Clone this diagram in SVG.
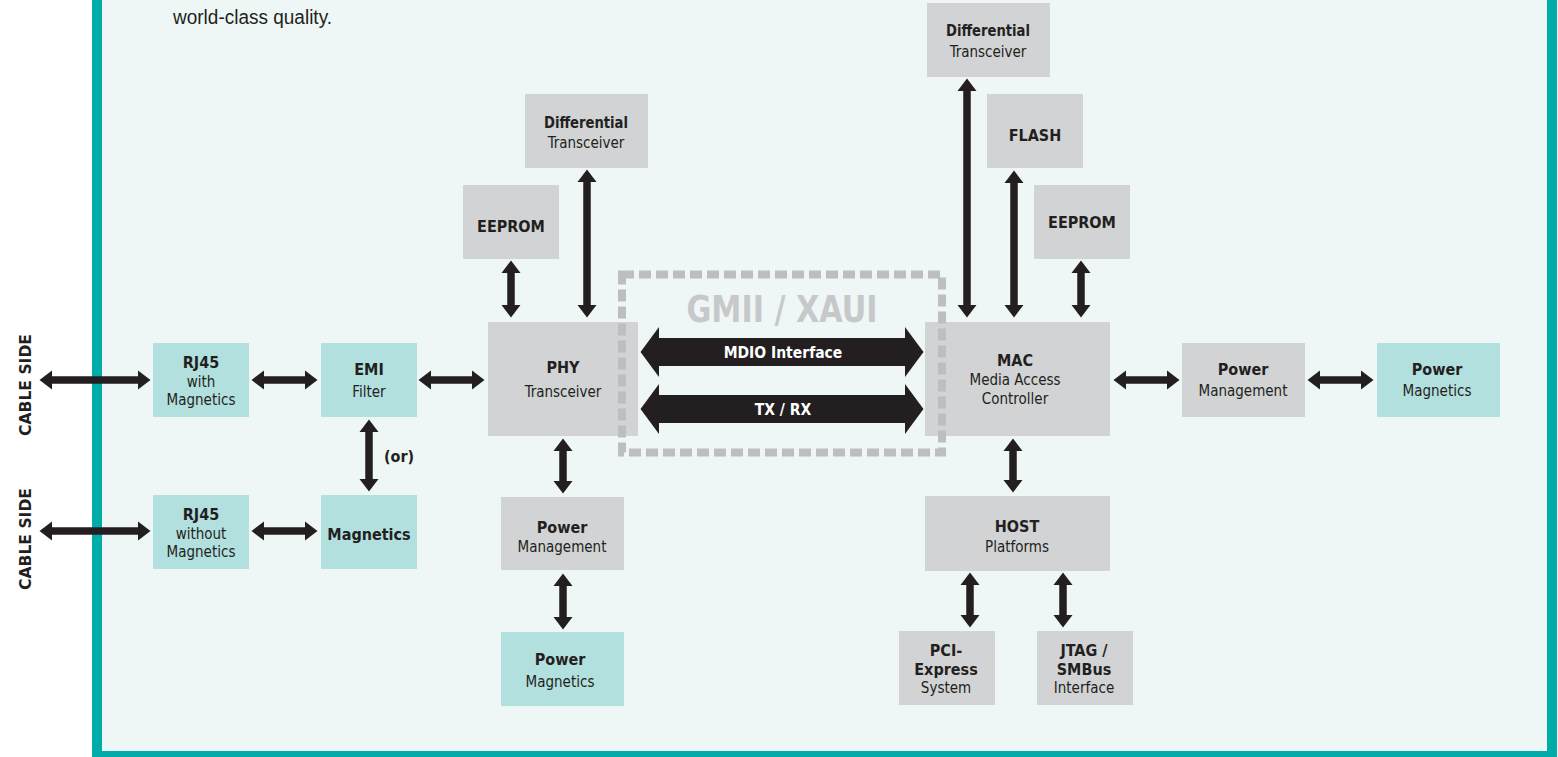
<svg xmlns="http://www.w3.org/2000/svg" width="1558" height="757" viewBox="0 0 1558 757">
<style>
.g{fill:#D1D3D4}
.t{fill:#B2E0DF}
text{font-family:"DejaVu Sans Condensed","DejaVu Sans",sans-serif;fill:#231F20;text-anchor:middle}
.b{font-weight:bold;font-size:16px}
.n{font-size:15px}
.w{fill:#FFFFFF;font-weight:bold;font-size:15.5px}
.c{stroke:#231F20;stroke-width:7.5;fill:none}
.s{marker-start:url(#h);marker-end:url(#h)}
.big{stroke:#231F20;stroke-width:28;fill:none;marker-start:url(#H);marker-end:url(#H)}
</style>
<defs>
<marker id="h" markerUnits="userSpaceOnUse" viewBox="0 -10 13 20" markerWidth="13" markerHeight="20" refX="0.5" refY="0" orient="auto-start-reverse"><path d="M0,-9.5 L12.5,0 L0,9.5 z" fill="#231F20"/></marker>
<marker id="H" markerUnits="userSpaceOnUse" viewBox="0 -26 19 52" markerWidth="19" markerHeight="52" refX="0.5" refY="0" orient="auto-start-reverse"><path d="M0,-25 L18.5,0 L0,25 z" fill="#231F20"/></marker>
</defs>
<rect x="0" y="0" width="1558" height="757" fill="#FFFFFF"/>
<rect x="97" y="-10" width="1455" height="766" fill="#EEF7F6" stroke="#00ACA8" stroke-width="10"/>
<text x="173" y="24" style="font-family:'Liberation Sans',Arial,sans-serif;font-size:20px;text-anchor:start;fill:#231F20" textLength="159" lengthAdjust="spacingAndGlyphs">world-class quality.</text>
<text class="b" x="31" y="385" transform="rotate(-90 31 385)" textLength="102" lengthAdjust="spacingAndGlyphs">CABLE  SIDE</text>
<text class="b" x="31" y="539" transform="rotate(-90 31 539)" textLength="102" lengthAdjust="spacingAndGlyphs">CABLE  SIDE</text>
<g id="rj45-with"><rect class="t" x="153" y="343" width="96" height="74"/><text class="b" x="201" y="368">RJ45</text><text class="n" x="201" y="387">with</text><text class="n" x="201" y="405">Magnetics</text></g>
<g id="rj45-without"><rect class="t" x="153" y="495" width="96" height="74"/><text class="b" x="201" y="520">RJ45</text><text class="n" x="201" y="539">without</text><text class="n" x="201" y="557">Magnetics</text></g>
<g id="emi"><rect class="t" x="321" y="343" width="96" height="74"/><text class="b" x="369" y="375">EMI</text><text class="n" x="369" y="397">Filter</text></g>
<g id="magnetics"><rect class="t" x="321" y="495" width="96" height="74"/><text class="b" x="369" y="540">Magnetics</text></g>
<g id="phy"><rect class="g" x="488" y="322" width="150" height="114"/><text class="b" x="563" y="373">PHY</text><text class="n" x="563" y="397">Transceiver</text></g>
<g id="phy-eeprom"><rect class="g" x="463" y="185" width="96" height="74"/><text class="b" x="511" y="232">EEPROM</text></g>
<g id="phy-diff"><rect class="g" x="525" y="94" width="123" height="74"/><text class="b" x="586" y="128" textLength="84" lengthAdjust="spacingAndGlyphs">Differential</text><text class="n" x="586" y="148">Transceiver</text></g>
<g id="phy-power"><rect class="g" x="501" y="497" width="123" height="73"/><text class="b" x="562" y="533">Power</text><text class="n" x="562" y="552">Management</text></g>
<g id="phy-power-mag"><rect class="t" x="501" y="632" width="123" height="74"/><text class="b" x="560" y="665">Power</text><text class="n" x="560" y="687">Magnetics</text></g>
<g id="mac"><rect class="g" x="925" y="322" width="185" height="114"/><text class="b" x="1015" y="366">MAC</text><text class="n" x="1015" y="385">Media Access</text><text class="n" x="1015" y="404">Controller</text></g>
<g id="mac-diff"><rect class="g" x="927" y="3" width="123" height="74"/><text class="b" x="988" y="36" textLength="84" lengthAdjust="spacingAndGlyphs">Differential</text><text class="n" x="988" y="57">Transceiver</text></g>
<g id="flash"><rect class="g" x="987" y="94" width="96" height="74"/><text class="b" x="1035" y="141">FLASH</text></g>
<g id="mac-eeprom"><rect class="g" x="1034" y="185" width="96" height="74"/><text class="b" x="1082" y="228">EEPROM</text></g>
<g id="mac-power"><rect class="g" x="1182" y="343" width="123" height="74"/><text class="b" x="1243" y="375">Power</text><text class="n" x="1243" y="396">Management</text></g>
<g id="mac-power-mag"><rect class="t" x="1377" y="343" width="123" height="74"/><text class="b" x="1437" y="375">Power</text><text class="n" x="1437" y="396">Magnetics</text></g>
<g id="host"><rect class="g" x="925" y="496" width="185" height="75"/><text class="b" x="1017" y="532">HOST</text><text class="n" x="1017" y="552">Platforms</text></g>
<g id="pcie"><rect class="g" x="899" y="631" width="96" height="74"/><text class="b" x="946" y="656">PCI-</text><text class="b" x="946" y="675">Express</text><text class="n" x="946" y="693">System</text></g>
<g id="jtag"><rect class="g" x="1037" y="631" width="96" height="74"/><text class="b" x="1084" y="656">JTAG /</text><text class="b" x="1084" y="675">SMBus</text><text class="n" x="1084" y="693">Interface</text></g>
<g id="gmii">
<rect x="622" y="274.5" width="320" height="178" fill="none" stroke="#BCBEC0" stroke-width="8" stroke-dasharray="12 5"/>
<text x="782" y="322" style="font-size:38px;font-weight:bold;fill:#C7C8CA" textLength="191" lengthAdjust="spacingAndGlyphs">GMII / XAUI</text>
</g>
<g id="connectors">
<path class="c s" d="M51.5,380 H138.5"/>
<path class="c s" d="M263.5,380 H305.5"/>
<path class="c s" d="M430.5,380 H472.5"/>
<path class="c s" d="M51.5,531 H138.5"/>
<path class="c s" d="M263.5,531 H305.5"/>
<path class="c s" d="M1125.5,380 H1167.5"/>
<path class="c s" d="M1319.5,380 H1361.5"/>
<path class="c s" d="M369,431.5 V479.5"/>
<path class="c s" d="M511,272.5 V305.5"/>
<path class="c s" d="M587,181.5 V305.5"/>
<path class="c s" d="M563,450.5 V481.5"/>
<path class="c s" d="M563,585.5 V617.5"/>
<path class="c s" d="M967,90.5 V305.5"/>
<path class="c s" d="M1014,182.5 V305.5"/>
<path class="c s" d="M1081,272.5 V305.5"/>
<path class="c s" d="M1013,450.5 V480.5"/>
<path class="c s" d="M970,584.5 V615.5"/>
<path class="c s" d="M1063,584.5 V615.5"/>
<path class="big" d="M658.5,352 H905.5"/>
<path class="big" d="M658.5,409 H905.5"/>
<text x="399" y="462" class="b">(or)</text>
<text class="w" x="783" y="358">MDIO Interface</text>
<text class="w" x="783" y="415">TX / RX</text>
</g>
</svg>
